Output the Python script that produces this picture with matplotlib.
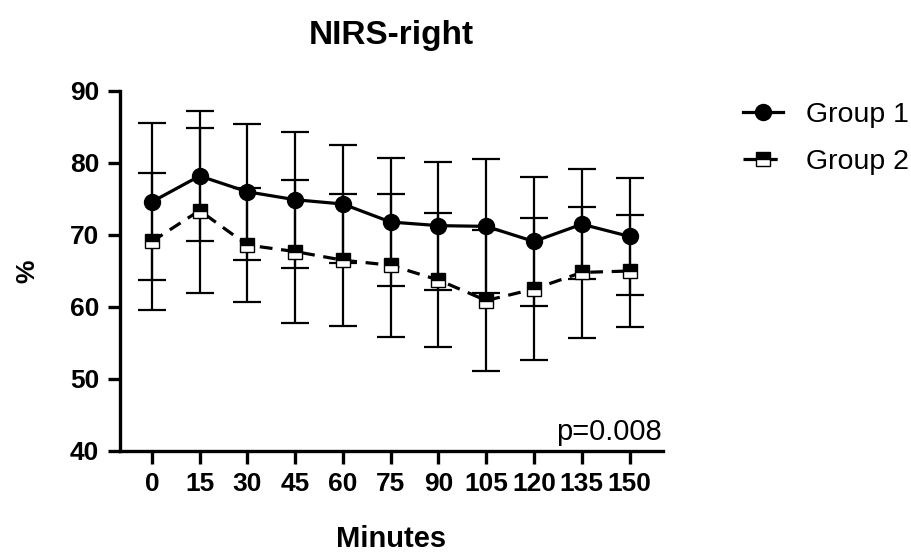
import numpy as np
import matplotlib.pyplot as plt

plt.rcParams['font.family'] = ['Liberation Sans', 'DejaVu Sans']

minutes = [0, 15, 30, 45, 60, 75, 90, 105, 120, 135, 150]
g1_mean = [74.6, 78.2, 76.0, 74.9, 74.3, 71.8, 71.3, 71.2, 69.1, 71.5, 69.8]
g1_sd = [10.9, 9.05, 9.45, 9.45, 8.15, 8.95, 8.9, 9.3, 9.0, 7.6, 8.1]
g2_mean = [69.1, 73.4, 68.6, 67.7, 66.5, 65.8, 63.75, 60.9, 62.5, 64.8, 65.0]
g2_sd = [9.5, 11.45, 7.9, 9.9, 9.2, 9.9, 9.25, 9.75, 9.9, 9.05, 7.8]

fig = plt.figure(figsize=(9.11, 5.52), dpi=100)
ax = fig.add_axes([120/911, 1-451/552, 543/911, 360/552])

# error bars first, then lines/markers on top
ax.errorbar(minutes, g2_mean, yerr=g2_sd, fmt='none', ecolor='black',
            elinewidth=1.6, capsize=10, capthick=1.6, zorder=2)
ax.errorbar(minutes, g1_mean, yerr=g1_sd, fmt='none', ecolor='black',
            elinewidth=1.6, capsize=10, capthick=1.6, zorder=2)

ax.plot(minutes, g1_mean, '-', color='black', lw=2.3, marker='o', ms=11.5,
        label='Group 1', zorder=4)
ax.plot(minutes, g2_mean, color='black', lw=2.3, ls=(0, (4, 2.7)), marker='s', ms=10,
        fillstyle='top', markerfacecolor='black', markerfacecoloralt='white',
        markeredgecolor='black', markeredgewidth=1, label='Group 2', zorder=3)

ax.set_xlim(-10, 160.5)
ax.set_ylim(40, 90)
ax.set_xticks(minutes)
ax.set_yticks([40, 50, 60, 70, 80, 90])
for s in ['top', 'right']:
    ax.spines[s].set_visible(False)
for s in ['left', 'bottom']:
    ax.spines[s].set_linewidth(2.4)
ax.tick_params(width=2.4, length=9, labelsize=19, pad=6)
for lab in ax.get_xticklabels() + ax.get_yticklabels():
    lab.set_fontweight('bold')

ax.set_xlabel('Minutes', fontsize=21, fontweight='bold', labelpad=21)
ax.set_ylabel('%', fontsize=19, fontweight='bold', labelpad=22)
ax.set_title('NIRS-right', fontsize=24, fontweight='bold', pad=34)

ax.text(160, 41.5, 'p=0.008', ha='right', va='baseline', fontsize=21)

leg = fig.legend(loc='upper left', bbox_to_anchor=(743/911, 1-102/552),
                 bbox_transform=fig.transFigure, frameon=False, fontsize=20.5,
                 handlelength=1.4, labelspacing=0.75, handletextpad=0.8,
                 borderpad=0, borderaxespad=0)

fig.savefig('out.png', dpi=100)
